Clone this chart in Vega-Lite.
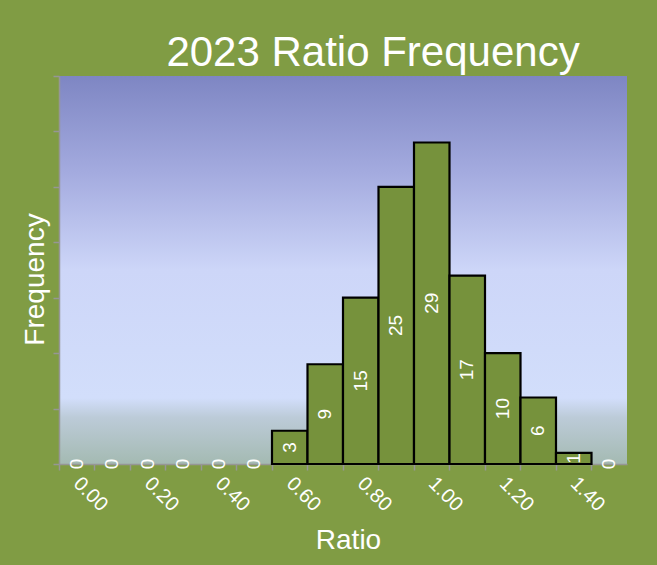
{
  "$schema": "https://vega.github.io/schema/vega-lite/v6.json",
  "width": 568,
  "height": 388,
  "autosize": {"type": "none"},
  "padding": {"left": 59, "top": 76, "right": 30, "bottom": 101},
  "background": "#809c44",
  "config": {
    "font": "Liberation Sans",
    "view": {
      "stroke": null,
      "fill": {
        "gradient": "linear", "x1": 0, "y1": 0, "x2": 0, "y2": 1,
        "stops": [
          {"offset": 0, "color": "#7e86c3"},
          {"offset": 0.25, "color": "#a4abdf"},
          {"offset": 0.5, "color": "#cdd6f8"},
          {"offset": 0.83, "color": "#d2defb"},
          {"offset": 0.88, "color": "#bccbd8"},
          {"offset": 1, "color": "#a4bab2"}
        ]
      }
    }
  },
  "title": {
    "text": "2023 Ratio Frequency",
    "color": "white",
    "fontSize": 42,
    "fontWeight": "normal",
    "anchor": "middle",
    "dx": 30,
    "dy": 44,
    "baseline": "alphabetic",
    "offset": 11
  },
  "data": {
    "values": [
      {"ratio": "0.00", "count": 0},
      {"ratio": "0.10", "count": 0},
      {"ratio": "0.20", "count": 0},
      {"ratio": "0.30", "count": 0},
      {"ratio": "0.40", "count": 0},
      {"ratio": "0.50", "count": 0},
      {"ratio": "0.60", "count": 3},
      {"ratio": "0.70", "count": 9},
      {"ratio": "0.80", "count": 15},
      {"ratio": "0.90", "count": 25},
      {"ratio": "1.00", "count": 29},
      {"ratio": "1.10", "count": 17},
      {"ratio": "1.20", "count": 10},
      {"ratio": "1.30", "count": 6},
      {"ratio": "1.40", "count": 1},
      {"ratio": "More", "count": 0}
    ]
  },
  "encoding": {
    "x": {
      "field": "ratio",
      "type": "ordinal",
      "sort": null,
      "scale": {"paddingInner": 0, "paddingOuter": 0},
      "axis": {
        "title": "Ratio",
        "titleColor": "white",
        "titleFontSize": 28,
        "titleFontWeight": "normal",
        "titleX": 289,
        "titleY": 76,
        "titleBaseline": "middle",
        "labelExpr": "indexof(['0.00','0.20','0.40','0.60','0.80','1.00','1.20','1.40'], datum.value) >= 0 ? datum.label : ''",
        "labelAngle": 45,
        "labelAlign": "left",
        "labelBaseline": "middle",
        "labelColor": "white",
        "labelFontSize": 20,
        "labelPadding": 10,
        "labelOverlap": false,
        "bandPosition": 0,
        "tickColor": "#969696",
        "tickSize": 6,
        "tickWidth": 1.5,
        "domainColor": "#969696",
        "domainWidth": 1.5
      }
    }
  },
  "layer": [
    {
      "mark": {"type": "bar", "fill": "#76923c", "stroke": "black", "strokeWidth": 2.2},
      "encoding": {
        "y": {
          "field": "count",
          "type": "quantitative",
          "scale": {"domain": [0, 35]},
          "axis": {
            "title": "Frequency",
            "titleColor": "white",
            "titleFontSize": 28,
            "titleFontWeight": "normal",
            "titleX": -24,
            "titleY": 203,
            "titleBaseline": "middle",
            "labels": false,
            "values": [0, 5, 10, 15, 20, 25, 30, 35],
            "grid": false,
            "tickColor": "#969696",
            "tickSize": 6,
            "tickWidth": 1.5,
            "domainColor": "#969696",
            "domainWidth": 1.5
          }
        },
        "strokeOpacity": {
          "condition": {"test": "datum.count > 0", "value": 1},
          "value": 0
        }
      }
    },
    {
      "mark": {"type": "text", "angle": 270, "align": "center", "baseline": "middle", "color": "white", "fontSize": 19},
      "encoding": {
        "y": {
          "field": "count",
          "type": "quantitative",
          "scale": {"domain": [0, 70]},
          "axis": null
        },
        "text": {"field": "count", "type": "quantitative"}
      }
    }
  ],
  "resolve": {"scale": {"y": "independent"}}
}
